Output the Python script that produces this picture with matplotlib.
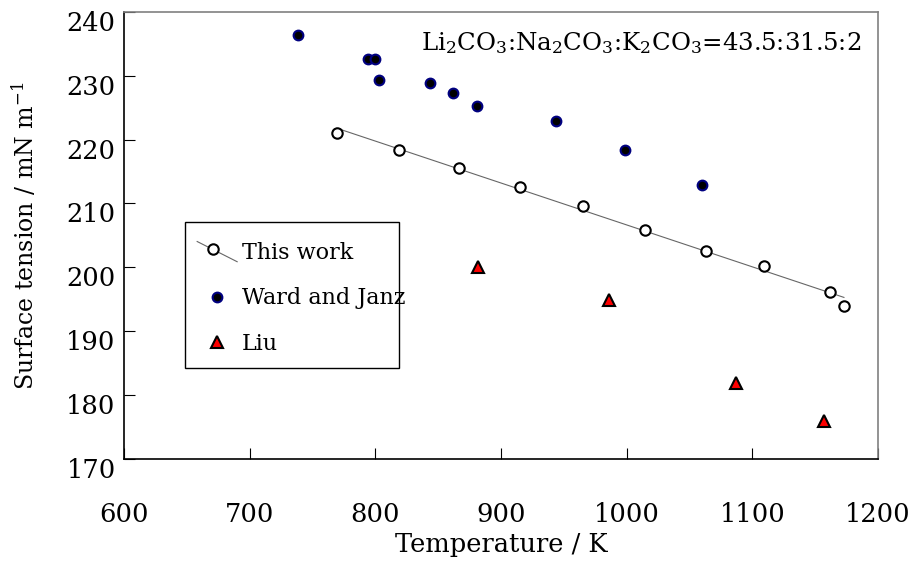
import numpy as np
import matplotlib
matplotlib.use('Agg')
import matplotlib.pyplot as plt
from matplotlib.patches import Rectangle
from matplotlib.lines import Line2D
from matplotlib.legend_handler import HandlerBase
from matplotlib.transforms import ScaledTranslation

# this work (open circles, with linear fit)
this_T = [769.6, 819.1, 866.9, 915.1, 965.2, 1014.6, 1063.1, 1109.5, 1161.8, 1172.9]
this_st = [221.0, 218.3, 215.6, 212.6, 209.6, 205.8, 202.6, 200.2, 196.1, 193.9]

# Ward and Janz
ward_T = [738.2, 793.9, 799.7, 802.9, 843.5, 861.5, 880.6, 943.8, 998.7, 1060.2]
ward_st = [236.4, 232.6, 232.6, 229.3, 228.8, 227.3, 225.3, 222.9, 218.3, 212.9]

# Liu
liu_T = [881.4, 985.7, 1087.0, 1157.0]
liu_st = [200.0, 194.9, 181.8, 175.9]

xticks = [600, 700, 800, 900, 1000, 1100, 1200]
yticks = [170, 180, 190, 200, 210, 220, 230, 240]


class DiagHandler(HandlerBase):
    # excel-style legend key: sloping line with the marker in the middle
    def create_artists(self, legend, orig, xd, yd, w, h, fontsize, trans):
        ln = Line2D([-xd, -xd + w], [-yd + h * 1.1, -yd - h * 0.2],
                    color=orig.get_color(), lw=orig.get_linewidth(), transform=trans)
        mk = Line2D([-xd + w * 0.4], [-yd + h * 0.62], marker='o', ms=7.5, mfc='white',
                    mec='black', mew=1.5, ls='none', transform=trans)
        return [ln, mk]


plt.rcParams['font.family'] = ['DejaVu Serif']
plt.rcParams['mathtext.fontset'] = 'dejavuserif'
fs = 18.5

fig = plt.figure(figsize=(9.16, 5.67), dpi=100)
ax = fig.add_axes([0.1354, 0.191, 0.8231, 0.7878])

fit = np.polyfit(this_T, this_st, 1)
xf = np.array([min(this_T), max(this_T)])
fit_line, = ax.plot(xf, np.polyval(fit, xf), color='#666666', lw=0.8, zorder=2)

h1, = ax.plot(this_T, this_st, 'o', ms=7.5, mfc='white', mec='black', mew=1.5, zorder=3)
h2, = ax.plot(ward_T, ward_st, 'o', ms=7, mfc='black', mec='#000080', mew=1.5, zorder=3)
h3, = ax.plot(liu_T, liu_st, '^', ms=8.5, mfc='#ff0000', mec='black', mew=1.5, zorder=3)

ax.set_xlim(600, 1200)
ax.set_ylim(170, 240)
ax.set_xticks(xticks)
ax.set_yticks(yticks)
ax.tick_params(axis='x', direction='in', length=8, pad=31, labelsize=fs)
ax.tick_params(axis='y', direction='in', length=8, pad=6, labelsize=fs)
off = ScaledTranslation(0, -9 / 100, fig.dpi_scale_trans)
for lab in ax.get_yticklabels():
    lab.set_transform(lab.get_transform() + off)

for s in ['left', 'bottom']:
    ax.spines[s].set_color('black')
    ax.spines[s].set_linewidth(1.2)
for s in ['top', 'right']:
    ax.spines[s].set_color('#808080')
    ax.spines[s].set_linewidth(1.2)

ax.set_xlabel('Temperature / K', fontsize=fs, labelpad=4)
ax.set_ylabel('Surface tension / mN m$^{\\mathregular{-1}}$', fontsize=17, labelpad=20)

ax.text(0.978, 0.93, 'Li$_2$CO$_3$:Na$_2$CO$_3$:K$_2$CO$_3$=43.5:31.5:2',
        transform=ax.transAxes, ha='right', va='center', fontsize=17.6)

# legend box
ax.add_patch(Rectangle((0.081, 0.203), 0.284, 0.327, transform=ax.transAxes,
                       fill=False, edgecolor='black', lw=1.0, zorder=4))
ax.legend([fit_line, h2, h3], ['This work', 'Ward and Janz', 'Liu'],
          handler_map={fit_line: DiagHandler()},
          loc='upper left', bbox_to_anchor=(0.097, 0.486), frameon=False,
          fontsize=16, labelspacing=1.07, handlelength=1.8, handletextpad=0.2,
          borderpad=0, borderaxespad=0)

fig.savefig('out.png', dpi=100)
